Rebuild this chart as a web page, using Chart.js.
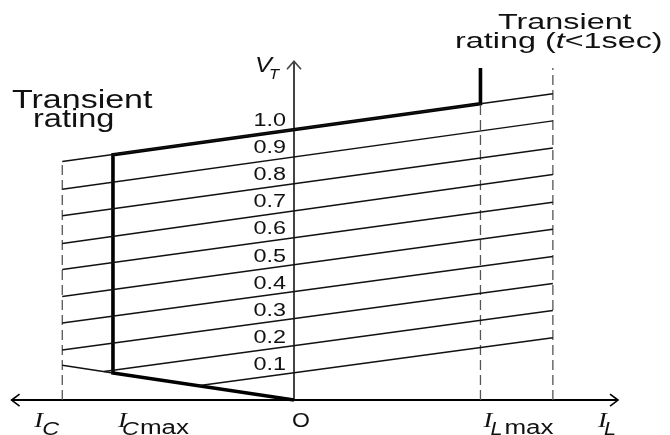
<!DOCTYPE html>
<html>
<head>
<meta charset="utf-8">
<script src="https://cdn.jsdelivr.net/npm/chart.js@4"></script>
<style>
  html, body { margin:0; padding:0; background:#fff; }
  #wrap { width:670px; height:435px; }
</style>
</head>
<body>
<div id="wrap"><canvas id="chart" width="670" height="435"></canvas></div>
<script>
// voltage levels (V_T) and where each thin line starts / ends
const levels      = [0.1, 0.2, 0.3, 0.4, 0.5, 0.6, 0.7, 0.8, 0.9, 1.0];
const levelLabels = ["0.1","0.2","0.3","0.4","0.5","0.6","0.7","0.8","0.9","1.0"];
const startI = [-0.53, -1.05, -1.28, -1.28, -1.28, -1.28, -1.28, -1.28, -1.28, -1.28];
const startV = [0.053, 0.105, 0.185, 0.284, 0.382, 0.482, 0.578, 0.680, 0.778, 0.880];
const endI   = [1.43, 1.43, 1.43, 1.43, 1.43, 1.43, 1.43, 1.43, 1.43, 1.43];
const endV   = [0.230, 0.330, 0.430, 0.530, 0.630, 0.730, 0.832, 0.930, 1.030, 1.130];

// current marks on the I axis
const I_C    = -1.28;
const I_Cmax = -1.0;
const I_Lmax = 1.03;
const I_edge = 1.43;

// thick operating boundary
const boundaryI = [0, -1.0, -1.0, 1.03, 1.03];
const boundaryV = [0, 0.10, 0.905, 1.093, 1.225];
// thin continuation of the lower boundary
const lowExtI = [-1.0, -1.28];
const lowExtV = [0.10, 0.128];

// dashed verticals: [I, top V]
const dashI   = [I_C, I_Lmax, I_edge];
const dashTop = [0.88, 1.093, 1.225];

// axes
const axisXEnds = [-1.56, 1.79];
const axisYTop  = 1.25;

const pts = (xs, ys) => xs.map((x,i)=>({x:x, y:ys[i]}));

const datasets = [];
levels.forEach((v,i)=>{
  datasets.push({ data: pts([startI[i], endI[i]], [startV[i], endV[i]]),
    borderColor:'#111', borderWidth:1.5 });
});
datasets.push({ data: pts(lowExtI, lowExtV), borderColor:'#111', borderWidth:1.5 });
dashI.forEach((x,i)=>{
  datasets.push({ data: pts([x,x],[0,dashTop[i]]), borderColor:'#555', borderWidth:1.3, borderDash:[10,5] });
});
datasets.push({ data: pts(boundaryI, boundaryV), borderColor:'#000', borderWidth:3.6, borderJoinStyle:'miter' });
datasets.push({ data: pts(axisXEnds, [0,0]), borderColor:'#000', borderWidth:2 });
datasets.push({ data: pts([0,0], [0,axisYTop]), borderColor:'#444', borderWidth:2 });

datasets.forEach(d=>{ d.showLine = true; d.pointRadius = 0; d.fill = false; d.tension = 0; });

function sText(ctx, s, x, y, font, sx, align){
  ctx.save();
  ctx.font = font;
  const w = ctx.measureText(s).width * sx;
  let x0 = x;
  if(align === 'right') x0 = x - w;
  if(align === 'center') x0 = x - w/2;
  ctx.translate(x0, y);
  ctx.scale(sx, 1);
  ctx.textAlign = 'left';
  ctx.textBaseline = 'alphabetic';
  ctx.fillText(s, 0, 0);
  ctx.restore();
  return w;
}

const decor = {
  id:'decor',
  afterDatasetsDraw(chart){
    const ctx = chart.ctx;
    const xs = chart.scales.x, ys = chart.scales.y;
    ctx.save();
    ctx.fillStyle = '#111';
    ctx.strokeStyle = '#000';
    ctx.lineWidth = 1.6;

    // arrow heads
    const lx = xs.getPixelForValue(axisXEnds[0]), rx = xs.getPixelForValue(axisXEnds[1]);
    const y0 = ys.getPixelForValue(0);
    const ty = ys.getPixelForValue(axisYTop), x0 = xs.getPixelForValue(0);
    ctx.beginPath();
    ctx.moveTo(lx+8, y0-6); ctx.lineTo(lx, y0); ctx.lineTo(lx+8, y0+6);
    ctx.moveTo(rx-8, y0-6); ctx.lineTo(rx, y0); ctx.lineTo(rx-8, y0+6);
    ctx.stroke();
    ctx.strokeStyle = '#444';
    ctx.beginPath();
    ctx.moveTo(x0-7, ty+8); ctx.lineTo(x0, ty); ctx.lineTo(x0+7, ty+8);
    ctx.stroke();

    // level labels
    levels.forEach((v,i)=>{
      sText(ctx, levelLabels[i], x0-8, ys.getPixelForValue(v)-3, '18px "Liberation Sans"', 1.3, 'right');
    });

    // rating texts
    sText(ctx, 'Transient', 12, 108, '25px "Liberation Sans"', 1.36);
    sText(ctx, 'rating', 33, 127, '25px "Liberation Sans"', 1.3);
    sText(ctx, 'Transient', 498, 29, '22px "Liberation Sans"', 1.47);
    let px = 455;
    px += sText(ctx, 'rating (', px, 48, '22px "Liberation Sans"', 1.47);
    px += sText(ctx, 't', px, 48, 'italic 22px "Liberation Sans"', 1.47);
    sText(ctx, '<1sec)', px, 48, '22px "Liberation Sans"', 1.47);

    // axis symbols
    const IF = 'italic 22px "Liberation Serif"';
    const SF = 'italic 18px "Liberation Sans"';
    const MF = '20px "Liberation Sans"';
    let bx = xs.getPixelForValue(I_C) - 28;
    sText(ctx, 'I', bx, 427, IF, 1.2);
    sText(ctx, 'C', bx+8, 435, SF, 1.3);

    bx = xs.getPixelForValue(I_Cmax) + 5;
    sText(ctx, 'I', bx, 427, IF, 1.2);
    sText(ctx, 'C', bx+4, 435, SF, 1.3);
    sText(ctx, 'max', bx+22, 434, MF, 1.3);

    sText(ctx, 'O', x0+7, 427, MF, 1.15, 'center');

    bx = xs.getPixelForValue(I_Lmax) + 3;
    sText(ctx, 'I', bx, 427, IF, 1.2);
    sText(ctx, 'L', bx+7, 435, SF, 1.2);
    sText(ctx, 'max', bx+21, 434, MF, 1.3);

    bx = rx - 20;
    sText(ctx, 'I', bx, 427, IF, 1.2);
    sText(ctx, 'L', bx+6, 435, SF, 1.2);

    sText(ctx, 'V', x0-39, 72, 'italic 22px "Liberation Sans"', 1.15);
    sText(ctx, 'T', x0-25, 79, 'italic 15px "Liberation Sans"', 1.1);
    ctx.restore();
  }
};

new Chart(document.getElementById('chart'), {
  type:'scatter',
  data:{ datasets: datasets },
  options:{
    responsive:false,
    animation:false,
    devicePixelRatio:1,
    layout:{ padding:0 },
    plugins:{ legend:{display:false}, tooltip:{enabled:false} },
    scales:{
      x:{ type:'linear', min:-1.624, max:2.077, display:false },
      y:{ type:'linear', min:-0.129, max:1.476, display:false }
    }
  },
  plugins:[decor]
});
</script>
</body>
</html>
